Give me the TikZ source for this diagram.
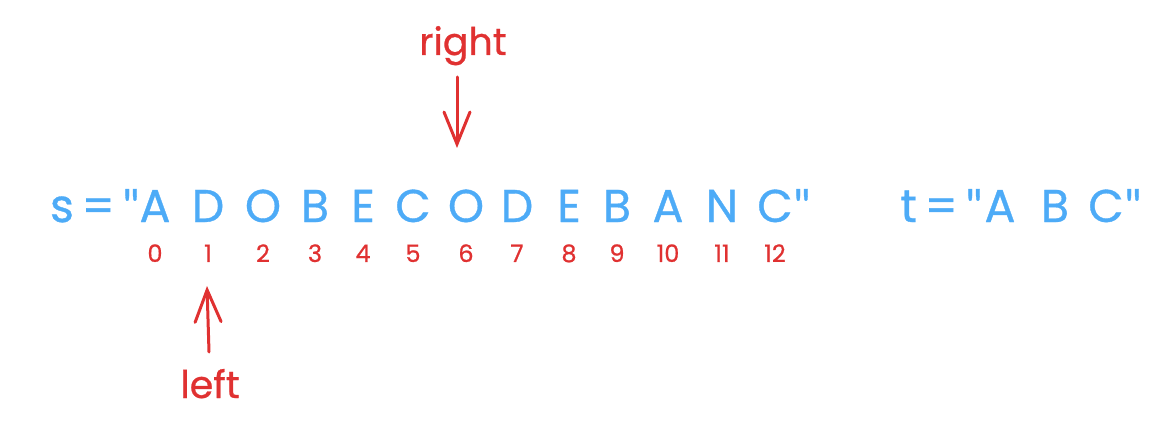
\documentclass[tikz,border=0pt]{standalone}
\usepackage{fontspec}
\setmainfont{Poppins}[FakeBold=0.7]
\newfontfamily\quotefont{Lato}[FakeBold=0.7]
\usetikzlibrary{arrows.meta}
\definecolor{strblue}{HTML}{4DABF7}
\definecolor{ptrred}{HTML}{E03131}
\newcommand{\dq}{{\quotefont"}}
\tikzset{
  chr/.style={text=strblue,font=\fontsize{23}{23}\selectfont,inner sep=0pt,anchor=base},
  idx/.style={text=ptrred,font=\fontsize{12}{12}\selectfont,inner sep=0pt,anchor=base},
  lbl/.style={text=ptrred,font=\fontsize{19}{19}\selectfont,inner sep=0pt,anchor=base},
  ptr/.style={ptrred,line width=1.5pt,line cap=round,
    -{Straight Barb[length=16pt,width=13pt,line cap=round]}}
}
\begin{document}
\begin{tikzpicture}[x=0.5pt,y=-0.5pt]
  \useasboundingbox (0,0) rectangle (1174,444);
  % string s with its indices
  \node[chr,anchor=base east] (spre) at (140,222) {s\,=\,\dq};
  \foreach \i/\ch/\x in {0/A/155,1/D/208,2/O/263,3/B/315,4/E/363,5/C/413,
      6/O/466,7/D/517,8/E/569,9/B/617,10/A/668,11/N/722,12/C/775} {
    \node[chr] (s\i) at (\x,222) {\ch};
    \node[idx] (i\i) at (\x,262) {\i};
  }
  \node[chr,anchor=base west] (spost) at (s12.base east) {\dq};
  % string t
  \node[chr,anchor=base east] (tpre) at (983,222) {t\,=\,\dq};
  \node[chr] (tA) at (1000,222) {A};
  \node[chr] (tB) at (1055,222) {B};
  \node[chr] (tC) at (1106,222) {C};
  \node[chr,anchor=base west] (tpost) at (tC.base east) {\dq};
  % pointers
  \node[lbl] (right) at (463,55) {right};
  \coordinate (rtop) at (457,77);
  \coordinate (rtip) at (457,148);
  \draw[ptr] (rtop) -- (rtip);
  \node[lbl] (left) at (210,398) {left};
  \coordinate (lbot) at (209,352);
  \coordinate (ltip) at (207,286);
  \draw[ptr] (lbot) -- (ltip);
\end{tikzpicture}
\end{document}
